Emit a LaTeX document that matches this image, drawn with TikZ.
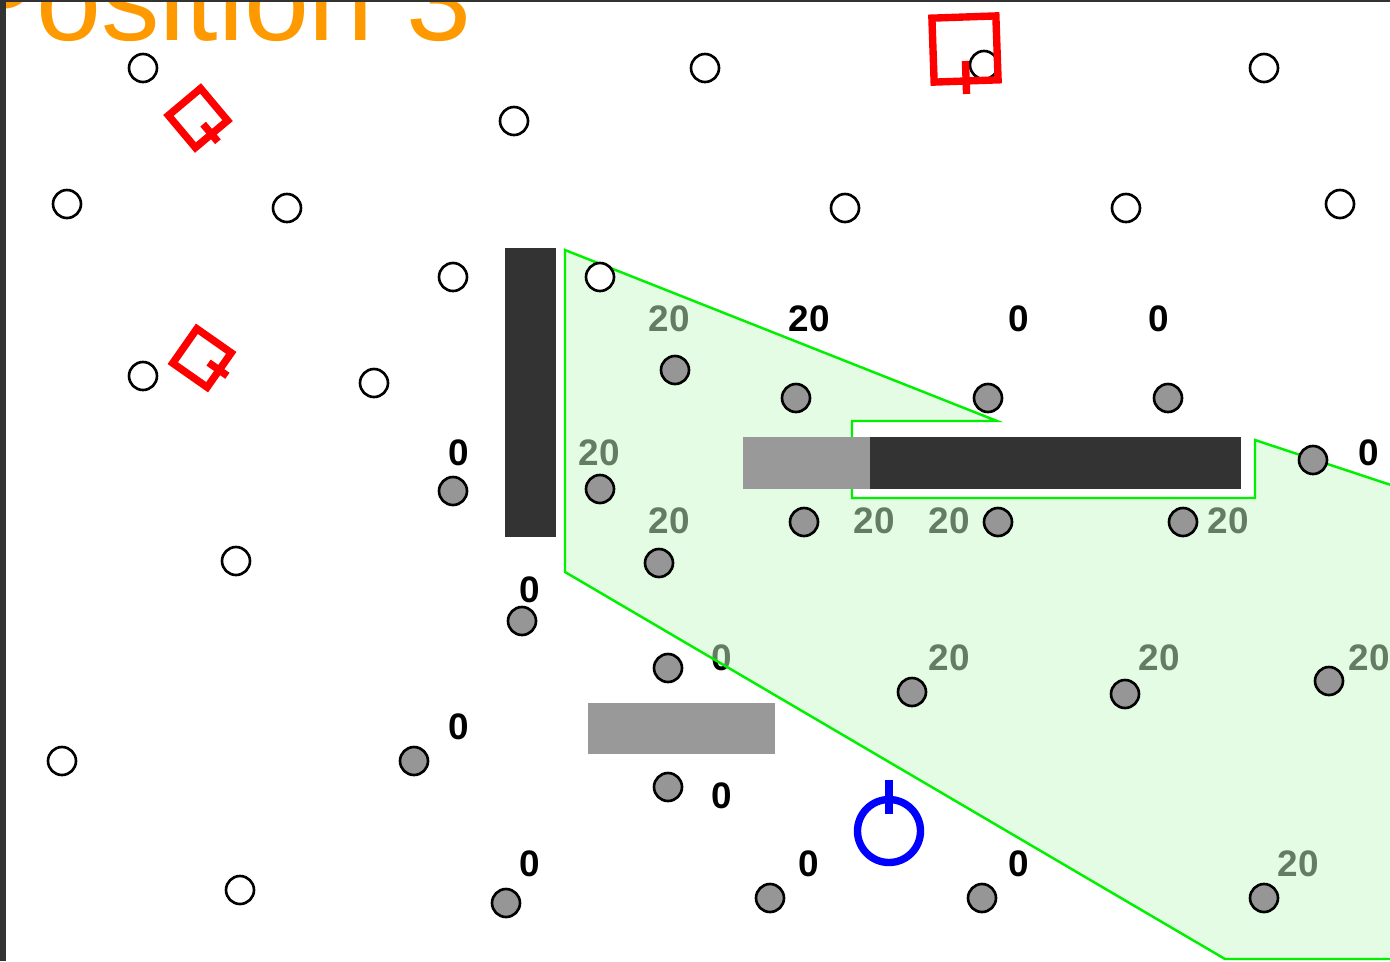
\documentclass[tikz,border=0pt]{standalone}
\usepackage{fontspec}
\setmainfont{Liberation Sans}
\definecolor{wallgray}{HTML}{333333}
\definecolor{boxgray}{HTML}{999999}
\definecolor{dotgray}{HTML}{969696}
\definecolor{zonefill}{RGB}{199,250,199}
\definecolor{zoneline}{RGB}{0,240,0}
\definecolor{titleorange}{HTML}{FF9900}
\tikzset{
  wdot/.style={circle, draw=black, fill=white, line width=1.5pt,
               minimum size=0.56cm, inner sep=0pt},
  gdot/.style={wdot, fill=dotgray},
  num/.style={inner sep=0pt, font=\fontsize{21}{25}\selectfont\bfseries},
  zone/.style={draw=zoneline, line width=1.4pt, fill=zonefill, fill opacity=0.5},
  redbot/.style={draw=red, line width=4.2pt},
  bluebot/.style={draw=blue, line width=4.2pt},
}

\begin{document}
\begin{tikzpicture}[x=0.02cm, y=-0.02cm]
\useasboundingbox (0,0) rectangle (1390,961);
\clip (0,0) rectangle (1390,961);

\node[anchor=base west, inner sep=0pt, text=titleorange,
      font=\fontsize{66.5}{72}\selectfont] (title) at (-42,40) {Position 3};

% reward labels, under the zone
\node[num] (l1) at (669,319) {20};
\node[num] (l2) at (809,319) {20};
\node[num] (l3) at (1019,319) {0};
\node[num] (l4) at (1159,319) {0};
\node[num] (l5) at (1369,453) {0};
\node[num] (l6) at (459,453) {0};
\node[num] (l7) at (599,453) {20};
\node[num] (l8) at (669,521) {20};
\node[num] (l9) at (874,521) {20};
\node[num] (l10) at (949,521) {20};
\node[num] (l11) at (1228,521) {20};
\node[num] (l12) at (530,590) {0};
\node[num] (l13) at (722,658) {0};
\node[num] (l14) at (949,658) {20};
\node[num] (l15) at (1159,658) {20};
\node[num] (l16) at (1369,658) {20};
\node[num] (l17) at (459,727) {0};
\node[num] (l18) at (722,796) {0};
\node[num] (l19) at (530,864) {0};
\node[num] (l20) at (809,864) {0};
\node[num] (l21) at (1019,864) {0};
\node[num] (l22) at (1298,864) {20};

% zone
\draw[zone] (565,250) -- (997,421) -- (852,421) -- (852,498) -- (1255,498)
  -- (1255,440) -- (1400,488) -- (1400,959) -- (1225,959) -- (565,572) -- cycle;

% walls
\fill[wallgray] (505,248) rectangle (556,537);
\fill[boxgray] (743,437) rectangle (870,489);
\fill[wallgray] (870,437) rectangle (1241,489);
\fill[boxgray] (588,703) rectangle (775,754);

% free spots
\node[wdot] (w1) at (143,68) {};
\node[wdot] (w2) at (705,68) {};
\node[wdot] (w3) at (984,65) {};
\node[wdot] (w4) at (1264,68) {};
\node[wdot] (w5) at (514,121) {};
\node[wdot] (w6) at (67,204) {};
\node[wdot] (w7) at (287,208) {};
\node[wdot] (w8) at (845,208) {};
\node[wdot] (w9) at (1126,208) {};
\node[wdot] (w10) at (1340,204) {};
\node[wdot] (w11) at (453,277) {};
\node[wdot] (w12) at (600,277) {};
\node[wdot] (w13) at (143,376) {};
\node[wdot] (w14) at (374,383) {};
\node[wdot] (w15) at (236,561) {};
\node[wdot] (w16) at (62,761) {};
\node[wdot] (w17) at (240,890) {};

% targets
\node[gdot] (g1) at (675,370) {};
\node[gdot] (g2) at (796,398) {};
\node[gdot] (g3) at (988,398) {};
\node[gdot] (g4) at (1168,398) {};
\node[gdot] (g5) at (1313,460) {};
\node[gdot] (g6) at (453,491) {};
\node[gdot] (g7) at (600,489) {};
\node[gdot] (g8) at (804,522) {};
\node[gdot] (g9) at (998,522) {};
\node[gdot] (g10) at (1183,522) {};
\node[gdot] (g11) at (659,563) {};
\node[gdot] (g12) at (522,621) {};
\node[gdot] (g13) at (668,668) {};
\node[gdot] (g14) at (912,692) {};
\node[gdot] (g15) at (1125,694) {};
\node[gdot] (g16) at (1329,681) {};
\node[gdot] (g17) at (414,761) {};
\node[gdot] (g18) at (668,787) {};
\node[gdot] (g19) at (506,903) {};
\node[gdot] (g20) at (770,898) {};
\node[gdot] (g21) at (982,898) {};
\node[gdot] (g22) at (1264,898) {};

% other robots
\begin{scope}[shift={(965,49)}, rotate=2]
  \draw[redbot] (-32,-32) rectangle (32,32);
  \draw[redbot] (0,12) -- (0,45);
\end{scope}
\begin{scope}[shift={(198,118)}, rotate=40]
  \draw[redbot] (-21,-21) rectangle (21,21);
  \draw[redbot] (0,8) -- (0,31);
\end{scope}
\begin{scope}[shift={(202,358)}, rotate=55]
  \draw[redbot] (-21,-21) rectangle (21,21);
  \draw[redbot] (0,8) -- (0,31);
\end{scope}

% own robot
\draw[bluebot] (889,831) circle[radius=31.5];
\draw[bluebot] (889,814) -- (889,780);

% frame
\draw[wallgray, line width=3.4pt] (3,0) -- (3,961);
\draw[wallgray, line width=1.2pt] (0,1) -- (1390,1);
\end{tikzpicture}
\end{document}
